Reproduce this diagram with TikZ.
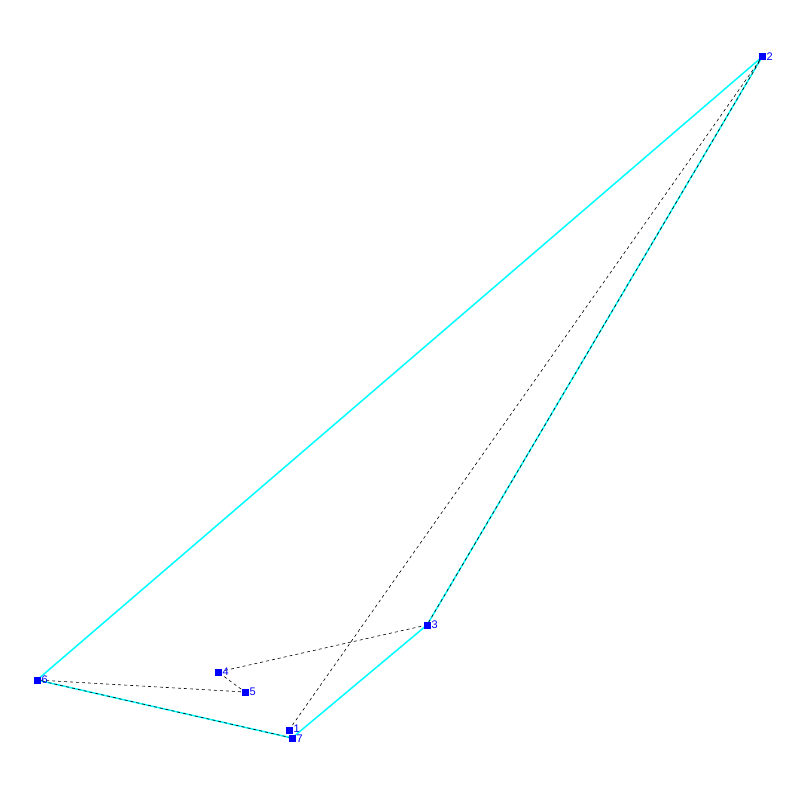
\documentclass[tikz,border=0pt]{standalone}
\usepackage{fontspec}
\setmainfont{Liberation Sans}
\definecolor{hullcyan}{RGB}{0,255,255}
\definecolor{ptblue}{RGB}{0,0,255}
\begin{document}
\begin{tikzpicture}[x=1pt,y=-1pt,
  pt/.style={fill=ptblue,minimum size=7pt,inner sep=0pt,draw=none,rectangle},
  lab/.style={text=ptblue,font=\fontsize{11}{11}\selectfont,inner sep=0pt,anchor=west},
  hull/.style={hullcyan,line width=1.5pt},
  walk/.style={black,line width=0.6pt,dash pattern=on 3pt off 3pt}]
\useasboundingbox (0,0) rectangle (800,800);
\node[pt] (n1) at (289,730) {};
\node[pt] (n2) at (762,57) {};
\node[pt] (n3) at (427,625) {};
\node[pt] (n4) at (218,672) {};
\node[pt] (n5) at (245,692) {};
\node[pt] (n6) at (37,680) {};
\node[pt] (n7) at (292,738) {};
\draw[hull] (n6.center) -- (n2.center) -- (n3.center) -- (n7.center) -- cycle;
\draw[walk] (n1.center) -- (n2.center) -- (n3.center) -- (n4.center) -- (n5.center) -- (n6.center) -- (n7.center);
\foreach \i in {1,...,7} \node[pt] at (n\i) {};
\node[lab] (l1) at (293.5,728.5) {1};
\node[lab] (l2) at (766.5,57) {2};
\node[lab] (l3) at (431.5,625) {3};
\node[lab] (l4) at (222.5,672) {4};
\node[lab] (l5) at (249.5,692) {5};
\node[lab] (l6) at (41.5,680) {6};
\node[lab] (l7) at (296.5,739) {7};
\end{tikzpicture}
\end{document}
